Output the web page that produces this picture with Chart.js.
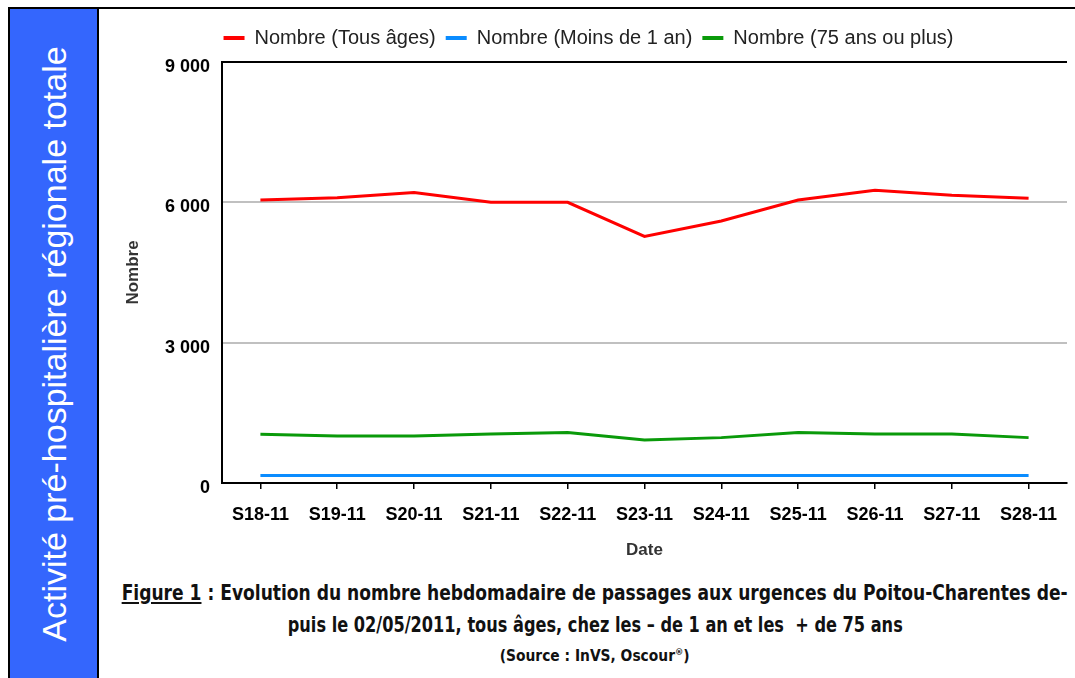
<!DOCTYPE html>
<html lang="fr">
<head>
<meta charset="utf-8">
<script src="https://cdn.jsdelivr.net/npm/chart.js@4/dist/chart.umd.min.js"></script>
<style>
  body { margin: 0; background: #fff; width: 1075px; height: 678px; overflow: hidden; position: relative; font-family: 'Liberation Sans', Arial, sans-serif; }
  #frame { position: absolute; left: 8px; top: 7px; width: 1067px; height: 671px; border-top: 2px solid #000; border-left: 2px solid #000; }
  #side { position: absolute; left: 10px; top: 9px; width: 87px; height: 669px; background: #3466fd; border-right: 2px solid #000; }
  #side span { position: absolute; left: 50%; top: 50%; transform: translate(-50%, -50%) rotate(-90deg); white-space: nowrap; color: #fff; font-size: 34px; }
  #wrap { position: absolute; left: 100px; top: 9px; width: 975px; height: 556px; }
  #caption { position: absolute; left: 130px; top: 577px; width: 930px; font-family: 'Liberation Sans Narrow', 'DejaVu Sans Condensed', sans-serif; font-weight: bold; color: #111; }
  #caption div { white-space: nowrap; display: flex; justify-content: center; }
  #caption span.fit { display: inline-block; flex: none; transform-origin: center; }
  #caption .l1, #caption .l2 { font-size: 21px; line-height: 32px; }
  #caption .l3 { font-size: 15px; line-height: 22px; }
  #caption u { text-underline-offset: 2px; }
</style>
</head>
<body>
<div id="frame"></div>
<div id="side"><span>Activité pré-hospitalière régionale totale</span></div>
<div id="wrap"><canvas id="chart"></canvas></div>
<div id="caption">
  <div class="l1"><span class="fit" data-w="946"><u>Figure 1</u> : Evolution du nombre hebdomadaire de passages aux urgences du Poitou-Charentes de-</span></div>
  <div class="l2"><span class="fit" data-w="615">puis le 02/05/2011, tous âges, chez les – de 1 an et les&nbsp; + de 75 ans</span></div>
  <div class="l3"><span class="fit" data-w="190">(Source : InVS, Oscour<sup style="font-size:9px">®</sup>)</span></div>
</div>
<script>
const weeks = ['S18-11', 'S19-11', 'S20-11', 'S21-11', 'S22-11', 'S23-11', 'S24-11', 'S25-11', 'S26-11', 'S27-11', 'S28-11'];
const tousAges = [6050, 6100, 6210, 6000, 6000, 5270, 5600, 6050, 6260, 6150, 6085];
const moins1an = [160, 160, 160, 160, 160, 160, 160, 160, 160, 160, 160];
const plus75ans = [1040, 1005, 1005, 1045, 1080, 920, 970, 1080, 1045, 1045, 970];
const yTicks = [0, 3000, 6000, 9000];

const font = 'Liberation Sans';

// squeeze caption lines to the width they have in the original
document.querySelectorAll('#caption .fit').forEach(el => {
    let w = el.getBoundingClientRect().width;
    el.style.transform = 'scaleX(' + (el.dataset.w / w) + ')';
});

function serie(label, data, color) {
    return {
        label: label,
        data: data,
        borderColor: color,
        backgroundColor: color,
        borderWidth: 3,
        pointRadius: 0,
        tension: 0
    };
}

// a bit more room between legend and plot
const legendMargin = {
    id: 'legendMargin',
    beforeInit(chart) {
        const fit = chart.legend.fit;
        chart.legend.fit = function() {
            fit.bind(chart.legend)();
            this.height += 4;
        };
    }
};

let ctx = document.getElementById('chart').getContext('2d');
let myChart = new Chart(ctx, {
    type: 'line',
    data: {
        labels: weeks,
        datasets: [
            serie('Nombre (Tous âges)', tousAges, '#ff0000'),
            serie('Nombre (Moins de 1 an)', moins1an, '#0a8cff'),
            serie('Nombre (75 ans ou plus)', plus75ans, '#0a9a0a')
        ]
    },
    plugins: [legendMargin],
    options: {
        responsive: true,
        maintainAspectRatio: false,
        animation: false,
        layout: { padding: { left: 10, right: 8, top: 9 } },
        plugins: {
            legend: {
                position: 'top',
                labels: {
                    color: '#222',
                    font: { family: font, size: 20 },
                    boxWidth: 21,
                    boxHeight: 4,
                    padding: 10,
                    generateLabels: chart => Chart.defaults.plugins.legend.labels.generateLabels(chart)
                        .map(l => Object.assign(l, { lineWidth: 0 }))
                }
            },
            tooltip: { enabled: false }
        },
        scales: {
            x: {
                offset: true,
                grid: { offset: false, drawOnChartArea: false, drawTicks: true, tickLength: 6, color: '#000', lineWidth: 1.5 },
                border: { color: '#000', width: 2 },
                ticks: { color: '#000', padding: 15, font: { family: font, size: 18, weight: 'bold' }, maxRotation: 0 },
                title: { display: true, text: 'Date', color: '#333', font: { family: font, size: 17, weight: 'bold' }, padding: { top: 0, bottom: 4 } }
            },
            y: {
                min: 0,
                max: 9000,
                afterBuildTicks: s => { s.ticks = yTicks.map(v => ({ value: v })); },
                afterFit: s => { s.width = 112; },
                grid: {
                    drawTicks: false,
                    lineWidth: 2,
                    color: c => (c.tick && (c.tick.value === 9000 || c.tick.value === 0)) ? '#000' : '#c0c0c0'
                },
                border: { color: '#000', width: 2 },
                ticks: {
                    color: '#000',
                    padding: 12,
                    labelOffset: 5,
                    font: { family: font, size: 18, weight: 'bold' },
                    callback: v => v.toLocaleString('fr-FR').replace(/\s/g, ' ')
                },
                title: { display: true, text: 'Nombre', color: '#333', font: { family: font, size: 17, weight: 'bold' }, padding: { top: 13, bottom: 0 } }
            }
        }
    }
});
</script>
</body>
</html>
